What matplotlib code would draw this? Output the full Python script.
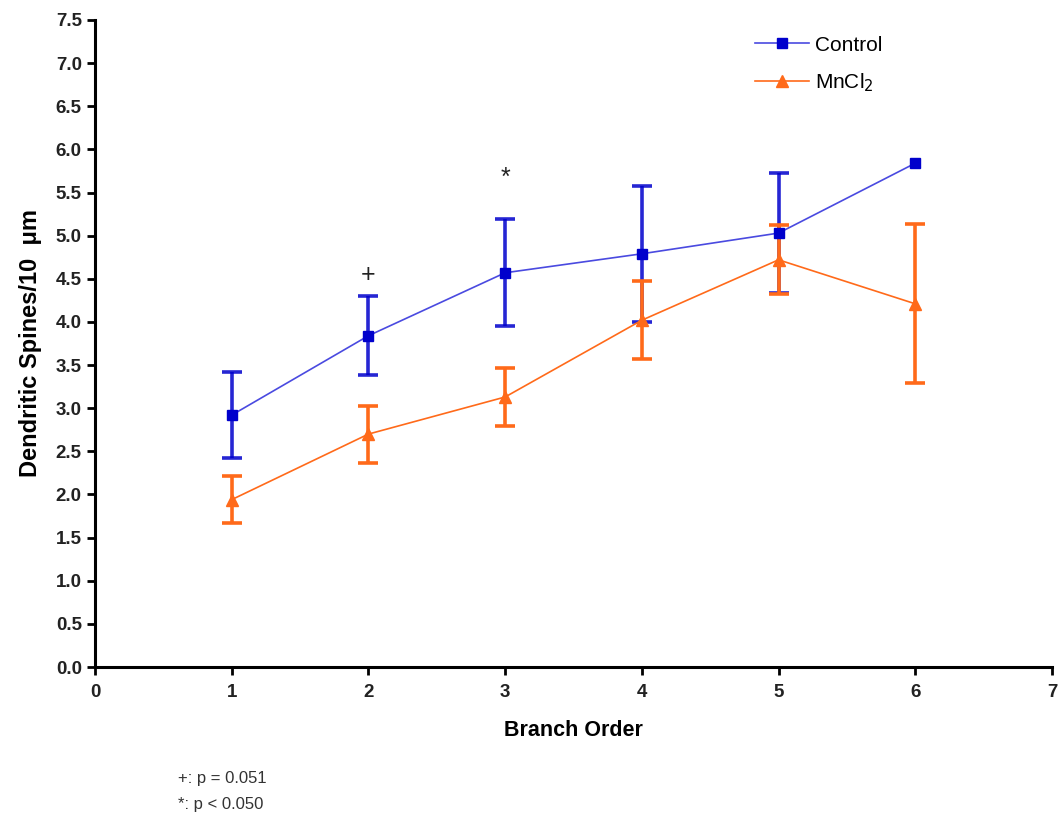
import matplotlib
matplotlib.use("Agg")
import matplotlib.pyplot as plt

plt.rcParams['font.family'] = ['Liberation Sans', 'DejaVu Sans']

branch_order = [1, 2, 3, 4, 5, 6]
control_mean = [2.92, 3.84, 4.57, 4.79, 5.03, 5.84]
control_err = [0.50, 0.46, 0.62, 0.79, 0.70, 0.0]
mncl2_mean = [1.94, 2.70, 3.13, 4.02, 4.72, 4.21]
mncl2_err = [0.27, 0.33, 0.34, 0.45, 0.40, 0.92]

sig_labels = ['+', '*']
sig_x = [2, 3]
sig_y = [4.54, 5.67]

x_ticks = list(range(0, 8))
y_ticks = [i * 0.5 for i in range(16)]

blue = '#0000cc'
blue_line = '#4a4ae0'
orange = '#ff6a1a'

fig = plt.figure(figsize=(10.61, 8.27), dpi=100)
ax = fig.add_axes([95 / 1061, 1 - 667 / 827, (1052 - 95) / 1061, (667 - 20) / 827])

# error bars first, then lines with markers on top
ax.errorbar(branch_order[:5], control_mean[:5], yerr=control_err[:5], fmt='none',
            ecolor=blue, elinewidth=2.6, capsize=7, capthick=2.6, zorder=2, alpha=0.85)
ax.errorbar(branch_order, mncl2_mean, yerr=mncl2_err, fmt='none', ecolor=orange,
            elinewidth=2.6, capsize=7, capthick=2.6, zorder=2.5)
ax.plot(branch_order, control_mean, color=blue_line, lw=1.2, marker='s', ms=7,
        mfc=blue, mec=blue, label='Control', zorder=4)
ax.plot(branch_order, mncl2_mean, color=orange, lw=1.2, marker='^', ms=8,
        mfc=orange, mec=orange, label='MnCl$_2$', zorder=3)

for lab, xx, yy in zip(sig_labels, sig_x, sig_y):
    ax.text(xx, yy, lab, ha='center', va='center', fontsize=18, color='#222222')

ax.set_xlim(0, 7)
ax.set_ylim(0, 7.5)
ax.set_xticks(x_ticks)
ax.set_yticks(y_ticks)
ax.set_yticklabels([f'{v:.1f}' for v in y_ticks])

for side in ['top', 'right']:
    ax.spines[side].set_visible(False)
for side in ['left', 'bottom']:
    ax.spines[side].set_linewidth(2.2)
ax.tick_params(axis='both', width=2, length=6, labelsize=13.5, direction='out')
ax.tick_params(axis='x', pad=6)
for lbl in ax.get_xticklabels() + ax.get_yticklabels():
    lbl.set_fontweight('bold')
    lbl.set_color('#222222')

ax.set_xlabel('Branch Order', fontsize=15.5, fontweight='bold', labelpad=14)
ax.set_ylabel('Dendritic Spines/10  \u03bcm', fontsize=17, fontweight='bold', labelpad=10)

leg = ax.legend(loc='upper left', bbox_to_anchor=(0.67, 1.005), frameon=False,
                fontsize=15, handlelength=2.6, handletextpad=0.3, labelspacing=0.8)

fig.text(178 / 1061, 1 - 778 / 827, '+: p = 0.051', fontsize=12, color='#333333', va='center')
fig.text(178 / 1061, 1 - 805 / 827, '*: p < 0.050', fontsize=12, color='#333333', va='center')

fig.savefig('out.png', dpi=100)
